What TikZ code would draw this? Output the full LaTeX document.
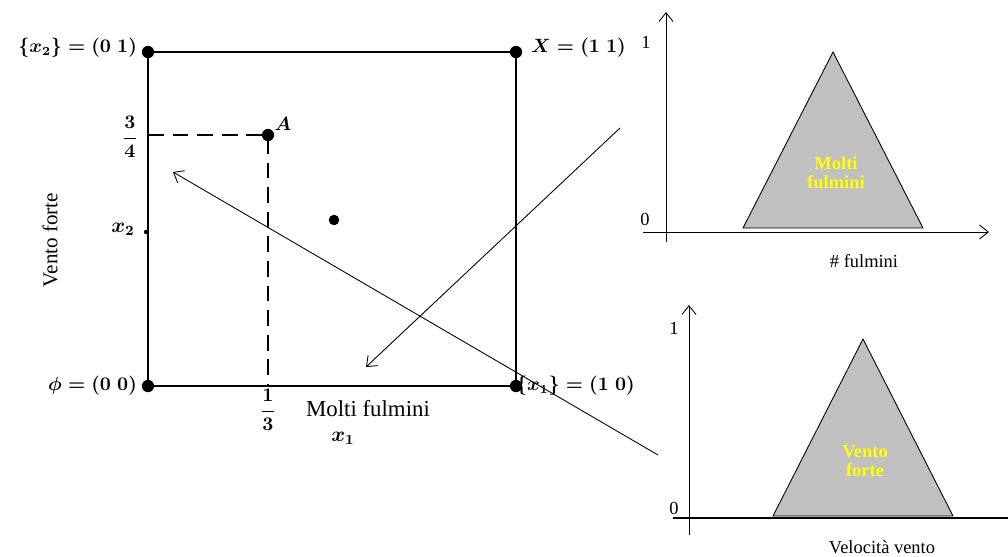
\documentclass[tikz,border=0pt]{standalone}
\usepackage{fontspec}
\setmainfont{Liberation Serif}
\usetikzlibrary{arrows.meta}
\definecolor{memgray}{RGB}{192,192,192}
\definecolor{memyellow}{RGB}{255,255,0}
\tikzset{
  pt/.style={circle, fill=black, inner sep=0pt, minimum size=7pt},
  lbl/.style={font=\fontsize{10.5}{12}\selectfont\bfseries\boldmath, inner sep=1pt},
  thin arrow/.style={-{Straight Barb[length=5pt,width=8pt]}, line width=0.5pt},
  memb/.style={fill=memgray, draw=black, line width=0.5pt},
  memtxt/.style={text=memyellow, font=\fontsize{10.5}{11}\selectfont\bfseries, align=center},
  axlbl/.style={font=\fontsize{10.5}{12}\selectfont, inner sep=1pt}
}
\begin{document}
\begin{tikzpicture}[x=0.02cm, y=-0.02cm]
  \useasboundingbox (0,0) rectangle (1008,556);
  % Unit square of fuzzy sets
  \node[pt] (o) at (148,386) {};
  \node[pt] (e2) at (148,52) {};
  \node[pt] (full) at (516,52) {};
  \node[pt] (e1) at (516,386) {};
  \draw[line width=1.3pt] (o.center) -- (e2.center) -- (full.center) -- (e1.center) -- cycle;
  % Point A and its projections
  \node[pt] (a) at (268,135) {};
  \coordinate (a34) at (148,135);
  \coordinate (a13) at (268,386);
  \draw[line width=1.2pt, dash pattern=on 9pt off 5pt] (a34) -- (a.center) -- (a13);
  \node[pt, minimum size=6pt] (mid) at (334,220) {};
  \node[circle, fill=black, inner sep=0pt, minimum size=2.5pt] (tick) at (146,232) {};
  % Corner labels
  \node[lbl, anchor=east] (l02) at (139,48) {$\{x_2\} = (0\;1)$};
  \node[lbl, anchor=west] (l11) at (529,48) {$X = (1\;1)$};
  \node[lbl, anchor=east] (l00) at (139,386) {$\phi = (0\;0)$};
  \node[lbl, anchor=west] (l10) at (514,386) {$\{x_1\} = (1\;0)$};
  \node[lbl] (lA) at (283,124) {$A$};
  \node[lbl] (l34) at (130,137) {$\displaystyle\frac{3}{4}$};
  \node[lbl] (l13) at (268,410) {$\displaystyle\frac{1}{3}$};
  \node[lbl, font=\fontsize{12}{14}\selectfont\bfseries\boldmath] (lx1) at (343,438) {$x_1$};
  \node[lbl, font=\fontsize{12}{14}\selectfont\bfseries\boldmath] (lx2) at (123,229) {$x_2$};
  \node[font=\fontsize{13}{15}\selectfont] (mf) at (368,409) {Molti fulmini};
  \node[font=\fontsize{12}{14}\selectfont, rotate=90] (vf) at (50,240) {Vento forte};
  % Mapping arrows
  \coordinate (p1) at (620,128);
  \coordinate (q1) at (366,367);
  \coordinate (p2) at (658,455);
  \coordinate (q2) at (173,172);
  \draw[thin arrow] (p1) -- (q1);
  \draw[thin arrow] (p2) -- (q2);

  % Membership function: # fulmini
  \coordinate (ya1) at (666,242);
  \coordinate (yb1) at (666,12);
  \coordinate (xa1) at (643,232);
  \coordinate (xb1) at (989,232);
  \draw[thin arrow] (ya1) -- (yb1);
  \draw[thin arrow] (xa1) -- (xb1);
  \draw[memb] (743,228) -- (833,52) -- (923,228) -- cycle;
  \node[memtxt] (t1) at (836,173) {Molti\\fulmini};
  \node[axlbl] (one1) at (646,42) {1};
  \node[axlbl] (zero1) at (645,219) {0};
  \node[axlbl] (n1) at (864,261) {\# fulmini};

  % Membership function: velocita vento
  \coordinate (ya2) at (689,535);
  \coordinate (yb2) at (689,305);
  \coordinate (xa2) at (673,518);
  \coordinate (xb2) at (1008,518);
  \draw[thin arrow] (ya2) -- (yb2);
  \draw[line width=0.6pt] (xa2) -- (xb2);
  \draw[memb] (773,516) -- (863,339) -- (953,516) -- cycle;
  \node[memtxt] (t2) at (865,461) {Vento\\forte};
  \node[axlbl] (one2) at (674,328) {1};
  \node[axlbl] (zero2) at (674,508) {0};
  \node[axlbl] (n2) at (882,547) {Velocità vento};
\end{tikzpicture}
\end{document}
